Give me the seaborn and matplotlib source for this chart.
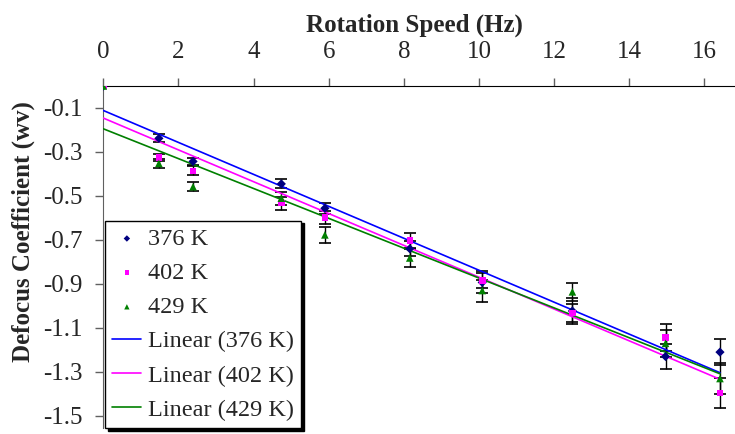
import matplotlib
matplotlib.use("Agg")
import matplotlib.pyplot as plt
import seaborn as sns
import numpy as np
import pandas as pd

# 数据
speed = [0, 1.48, 2.39, 4.74, 5.90, 8.16, 10.09, 12.49, 14.97, 16.42]
d376 = [0, -0.238, -0.343, -0.445, -0.556, -0.740, -0.893, -1.023, -1.230, -1.210]
d402 = [0, -0.324, -0.386, -0.533, -0.598, -0.703, -0.885, -1.032, -1.144, -1.396]
d429 = [0, -0.352, -0.458, -0.510, -0.677, -0.782, -0.930, -0.936, -1.170, -1.330]
e376 = [0, 0.018, 0.015, 0.020, 0.025, 0.035, 0.050, 0.060, 0.057, 0.060]
e402 = [0, 0.015, 0.020, 0.030, 0.030, 0.035, 0.035, 0.040, 0.060, 0.070]
e429 = [0, 0.020, 0.021, 0.030, 0.035, 0.040, 0.050, 0.040, 0.060, 0.070]
labels = ['376 K', '402 K', '429 K']
yticks = [-0.1, -0.3, -0.5, -0.7, -0.9, -1.1, -1.3, -1.5]

df = pd.DataFrame({'speed': speed, '376 K': d376, '402 K': d402, '429 K': d429})
errs = {'376 K': e376, '402 K': e402, '429 K': e429}

sns.set_style("white")
plt.rcParams['font.family'] = ['Liberation Serif', 'DejaVu Serif']
plt.rcParams['axes.unicode_minus'] = False

fig = plt.figure(figsize=(7.35, 4.34), dpi=100)
ax = fig.add_axes([103.3 / 735, 1 - 428 / 434, 1 - 103.3 / 735, (428 - 86) / 434])

styles = {
    '376 K': dict(marker='D', color='#000080', s=22, line='#0000FF'),
    '402 K': dict(marker='s', color='#FF00FF', s=22, line='#FF00FF'),
    '429 K': dict(marker='^', color='#008000', s=30, line='#008000'),
}

# 误差线
for lab in labels:
    ax.errorbar(df['speed'], df[lab], yerr=errs[lab], fmt='none', ecolor='black',
                elinewidth=1, capsize=4.5, capthick=1.2, zorder=2)

# 散点
for lab in labels:
    st = styles[lab]
    sns.scatterplot(x='speed', y=lab, data=df, marker=st['marker'], color=st['color'],
                    s=st['s'], edgecolor='none', label=lab, zorder=4, ax=ax)

# 线性趋势
fit_lines = {}
for lab in labels:
    sns.regplot(x='speed', y=lab, data=df, scatter=False, ci=None, ax=ax,
                line_kws=dict(color=styles[lab]['line'], lw=1.2, zorder=3))
    fit_lines[lab] = ax.lines[-1]

ax.set_xlim(0, 16.82)
ax.set_ylim(-1.555, 0)
ax.xaxis.tick_top()
ax.xaxis.set_label_position('top')
ax.set_xticks(range(0, 17, 2))
ax.set_yticks(yticks)
ax.set_yticklabels(['%.1f' % v for v in yticks])
ax.tick_params(axis='x', which='major', top=True, bottom=False, direction='out', length=5.8,
               width=1, pad=11, labelsize=18, color='#606060')
ax.tick_params(axis='y', which='major', left=True, direction='out', length=5.8,
               width=1, pad=9, labelsize=18, color='#606060')

for side in ['right', 'bottom']:
    ax.spines[side].set_visible(False)
ax.spines['top'].set_color('black')
ax.spines['left'].set_color('#606060')

ax.set_xlabel('Rotation Speed (Hz)', fontsize=18, fontweight='bold')
ax.set_ylabel('Defocus Coefficient (wv)', fontsize=18, fontweight='bold')
ax.xaxis.set_label_coords(0.4927, 1.159)
ax.yaxis.set_label_coords(-0.108, 0.573)

handles, labs = ax.get_legend_handles_labels()
hmap = dict(zip(labs, handles))
leg_handles = [hmap[l] for l in labels] + [fit_lines[l] for l in labels]
leg_labels = labels + ['Linear (%s)' % l for l in labels]
leg = ax.legend(leg_handles, leg_labels, loc='lower left',
                bbox_to_anchor=(105 / 735, 1 - 428 / 434), bbox_transform=fig.transFigure,
                borderaxespad=0, fontsize=17.5, frameon=True, fancybox=False,
                edgecolor='black', framealpha=1, shadow={'color': 'black', 'alpha': 1},
                handlelength=1.2, handletextpad=0.25, labelspacing=0.5,
                borderpad=0.3, markerscale=0.7)
leg.get_frame().set_linewidth(1)

fig.savefig('out.png', dpi=100)
